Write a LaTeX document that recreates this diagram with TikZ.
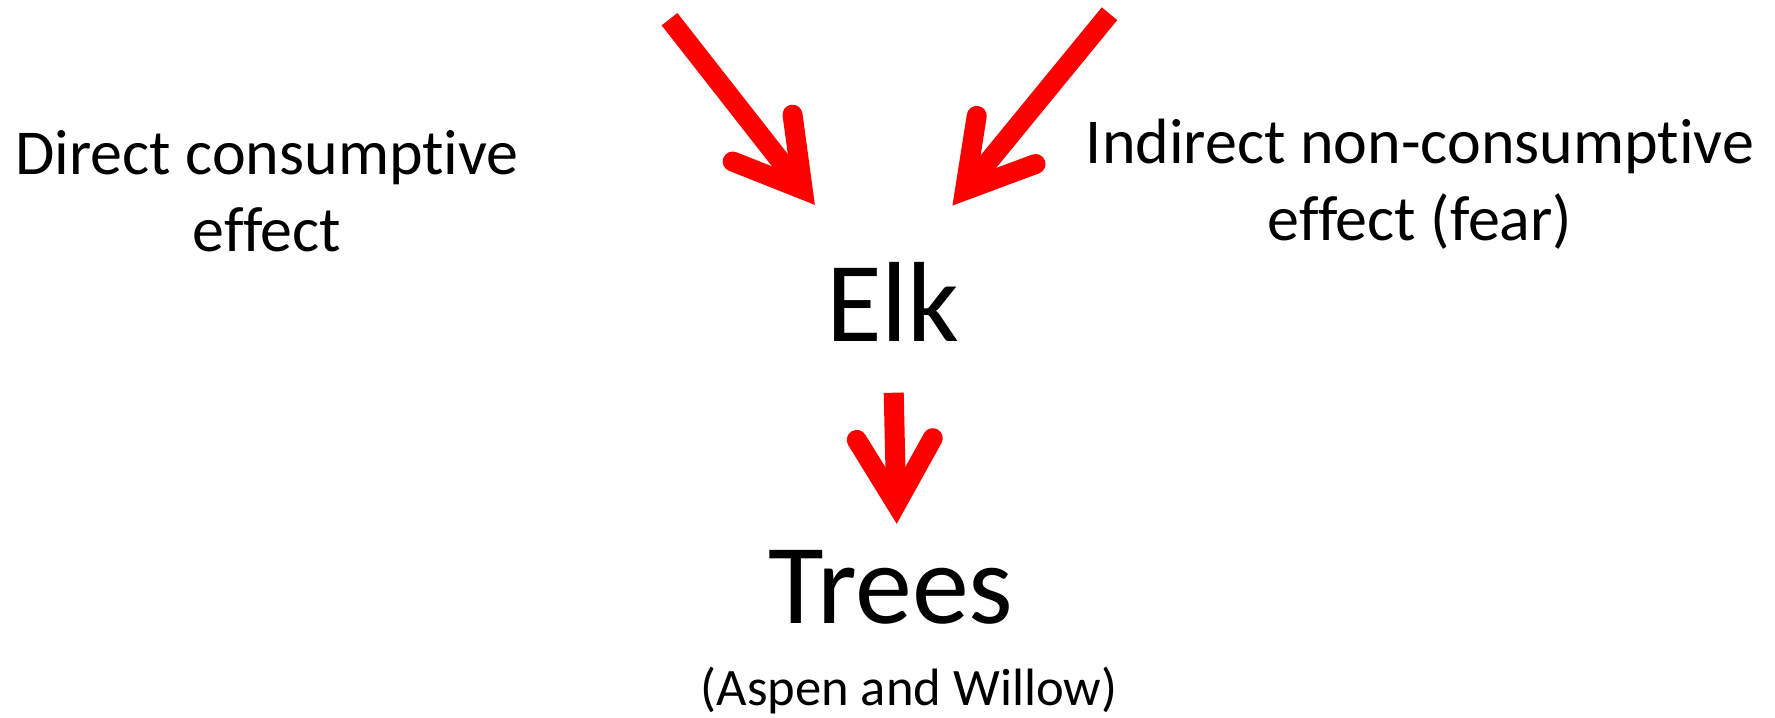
\documentclass[tikz,border=0pt]{standalone}
\usepackage{fontspec}
\setmainfont{Carlito}[Ligatures={NoCommon,NoContextual}]
\usetikzlibrary{calc}

% thick red arrow: butt-ended shaft, sharp tip, round-capped barbs
\newcommand\redarrow[2]{%
  \draw[arrowline, line cap=butt] (#1) -- ($(#2)!10pt!(#1)$);
  \draw[arrowline, line cap=round, line join=miter]
    ($(#2)!42.5pt!(#1)!19pt!90:(#1)$) -- ($(#2)!10pt!(#1)$)
    -- ($(#2)!42.5pt!(#1)!19pt!-90:(#1)$);
}

\begin{document}
\begin{tikzpicture}[x=0.5pt, y=-0.5pt,
  arrowline/.style={draw=arrowred, line width=10pt},
  lbl/.style={inner sep=0pt, outer sep=0pt, align=center, anchor=base, text=black},
  bigtxt/.style={lbl, font=\fontsize{57}{68}\selectfont},
  midtxt/.style={lbl, font=\fontsize{32}{38.5}\selectfont},
  smalltxt/.style={lbl, font=\fontsize{26.3}{31}\selectfont}]
\definecolor{arrowred}{RGB}{255,0,0}
\path[use as bounding box] (0,0) rectangle (1775,717);

% labels (anchored at the baseline of their last line)
\node[midtxt] (direct) at (267,251) {Direct consumptive\\effect};
\node[midtxt] (indirect) at (1420,240) {Indirect non-consumptive\\effect (fear)};
\node[bigtxt] (elk) at (893,341) {Elk};
\node[bigtxt] (trees) at (891,623) {Trees};
\node[smalltxt] (species) at (909,705) {(Aspen and Willow)};

% arrow end points
\coordinate (leftstart) at (669.5,19.2);
\coordinate (lefttip) at (815,205);
\coordinate (rightstart) at (1109.5,13.7);
\coordinate (righttip) at (952.3,205.7);
\coordinate (elkout) at (893.7,392.7);
\coordinate (treesin) at (896.7,524);

\redarrow{leftstart}{lefttip}
\redarrow{rightstart}{righttip}
\redarrow{elkout}{treesin}
\end{tikzpicture}
\end{document}
